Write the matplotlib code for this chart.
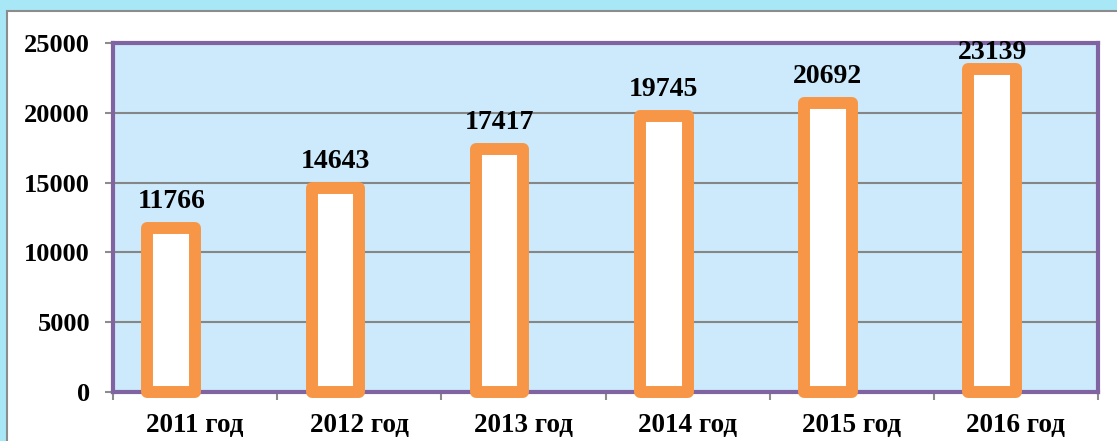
import matplotlib.pyplot as plt
import matplotlib.patches as mpatches
import numpy as np

years = ["2011 год", "2012 год", "2013 год", "2014 год", "2015 год", "2016 год"]
values = [11766, 14643, 17417, 19745, 20692, 23139]
y_ticks = [0, 5000, 10000, 15000, 20000, 25000]

plt.rcParams['font.family'] = ['Liberation Serif', 'DejaVu Serif']

fig = plt.figure(figsize=(11.17, 4.41), dpi=100)
fig.patch.set_facecolor("#a8e7f6")

# white inner panel with gray border
panel = mpatches.Rectangle((7 / 1117, -0.05), 1.1, 1 - 11 / 441 + 0.05,
                           transform=fig.transFigure, facecolor="white",
                           edgecolor="#8c8c8c", linewidth=1.5, zorder=-10)
fig.patches.append(panel)

ax = fig.add_axes([113 / 1117, 1 - 392 / 441, (1098 - 113) / 1117, (392 - 43) / 441])
ax.set_facecolor("#cceafc")

x = np.arange(len(years))
bars = ax.bar(x - 0.145, values, width=0.29, color="white", edgecolor="#f79646",
              linewidth=8.6, zorder=3, clip_on=False)
for b in bars:
    b.set_joinstyle('round')

for xi, v in zip(x, values):
    ax.text(xi - 0.145, min(v + 1900, 24350), str(v), ha="center", va="center",
            fontsize=20, fontweight="bold", zorder=5)

ax.set_xlim(-0.5, 5.5)
ax.set_ylim(0, 25000)
ax.set_yticks(y_ticks)
ax.set_yticklabels([str(t) for t in y_ticks], fontsize=19, fontweight="bold")
ax.set_xticks(x)
ax.set_xticklabels(years, fontsize=19.5, fontweight="bold")
ax.set_xticks(np.arange(-0.5, 6, 1), minor=True)
ax.tick_params(axis="x", which="major", length=0, pad=15)
ax.tick_params(axis="x", which="minor", length=6, width=1.5, color="#8c8c8c")
ax.tick_params(axis="y", length=6, width=1.5, color="#8c8c8c", pad=10.5)

ax.grid(axis="y", color="#868686", linewidth=1.5, zorder=1)
ax.set_axisbelow(True)
for s in ax.spines.values():
    s.set_color("#8064a2")
    s.set_linewidth(3)

plt.savefig("out.png", dpi=100, facecolor=fig.get_facecolor())
